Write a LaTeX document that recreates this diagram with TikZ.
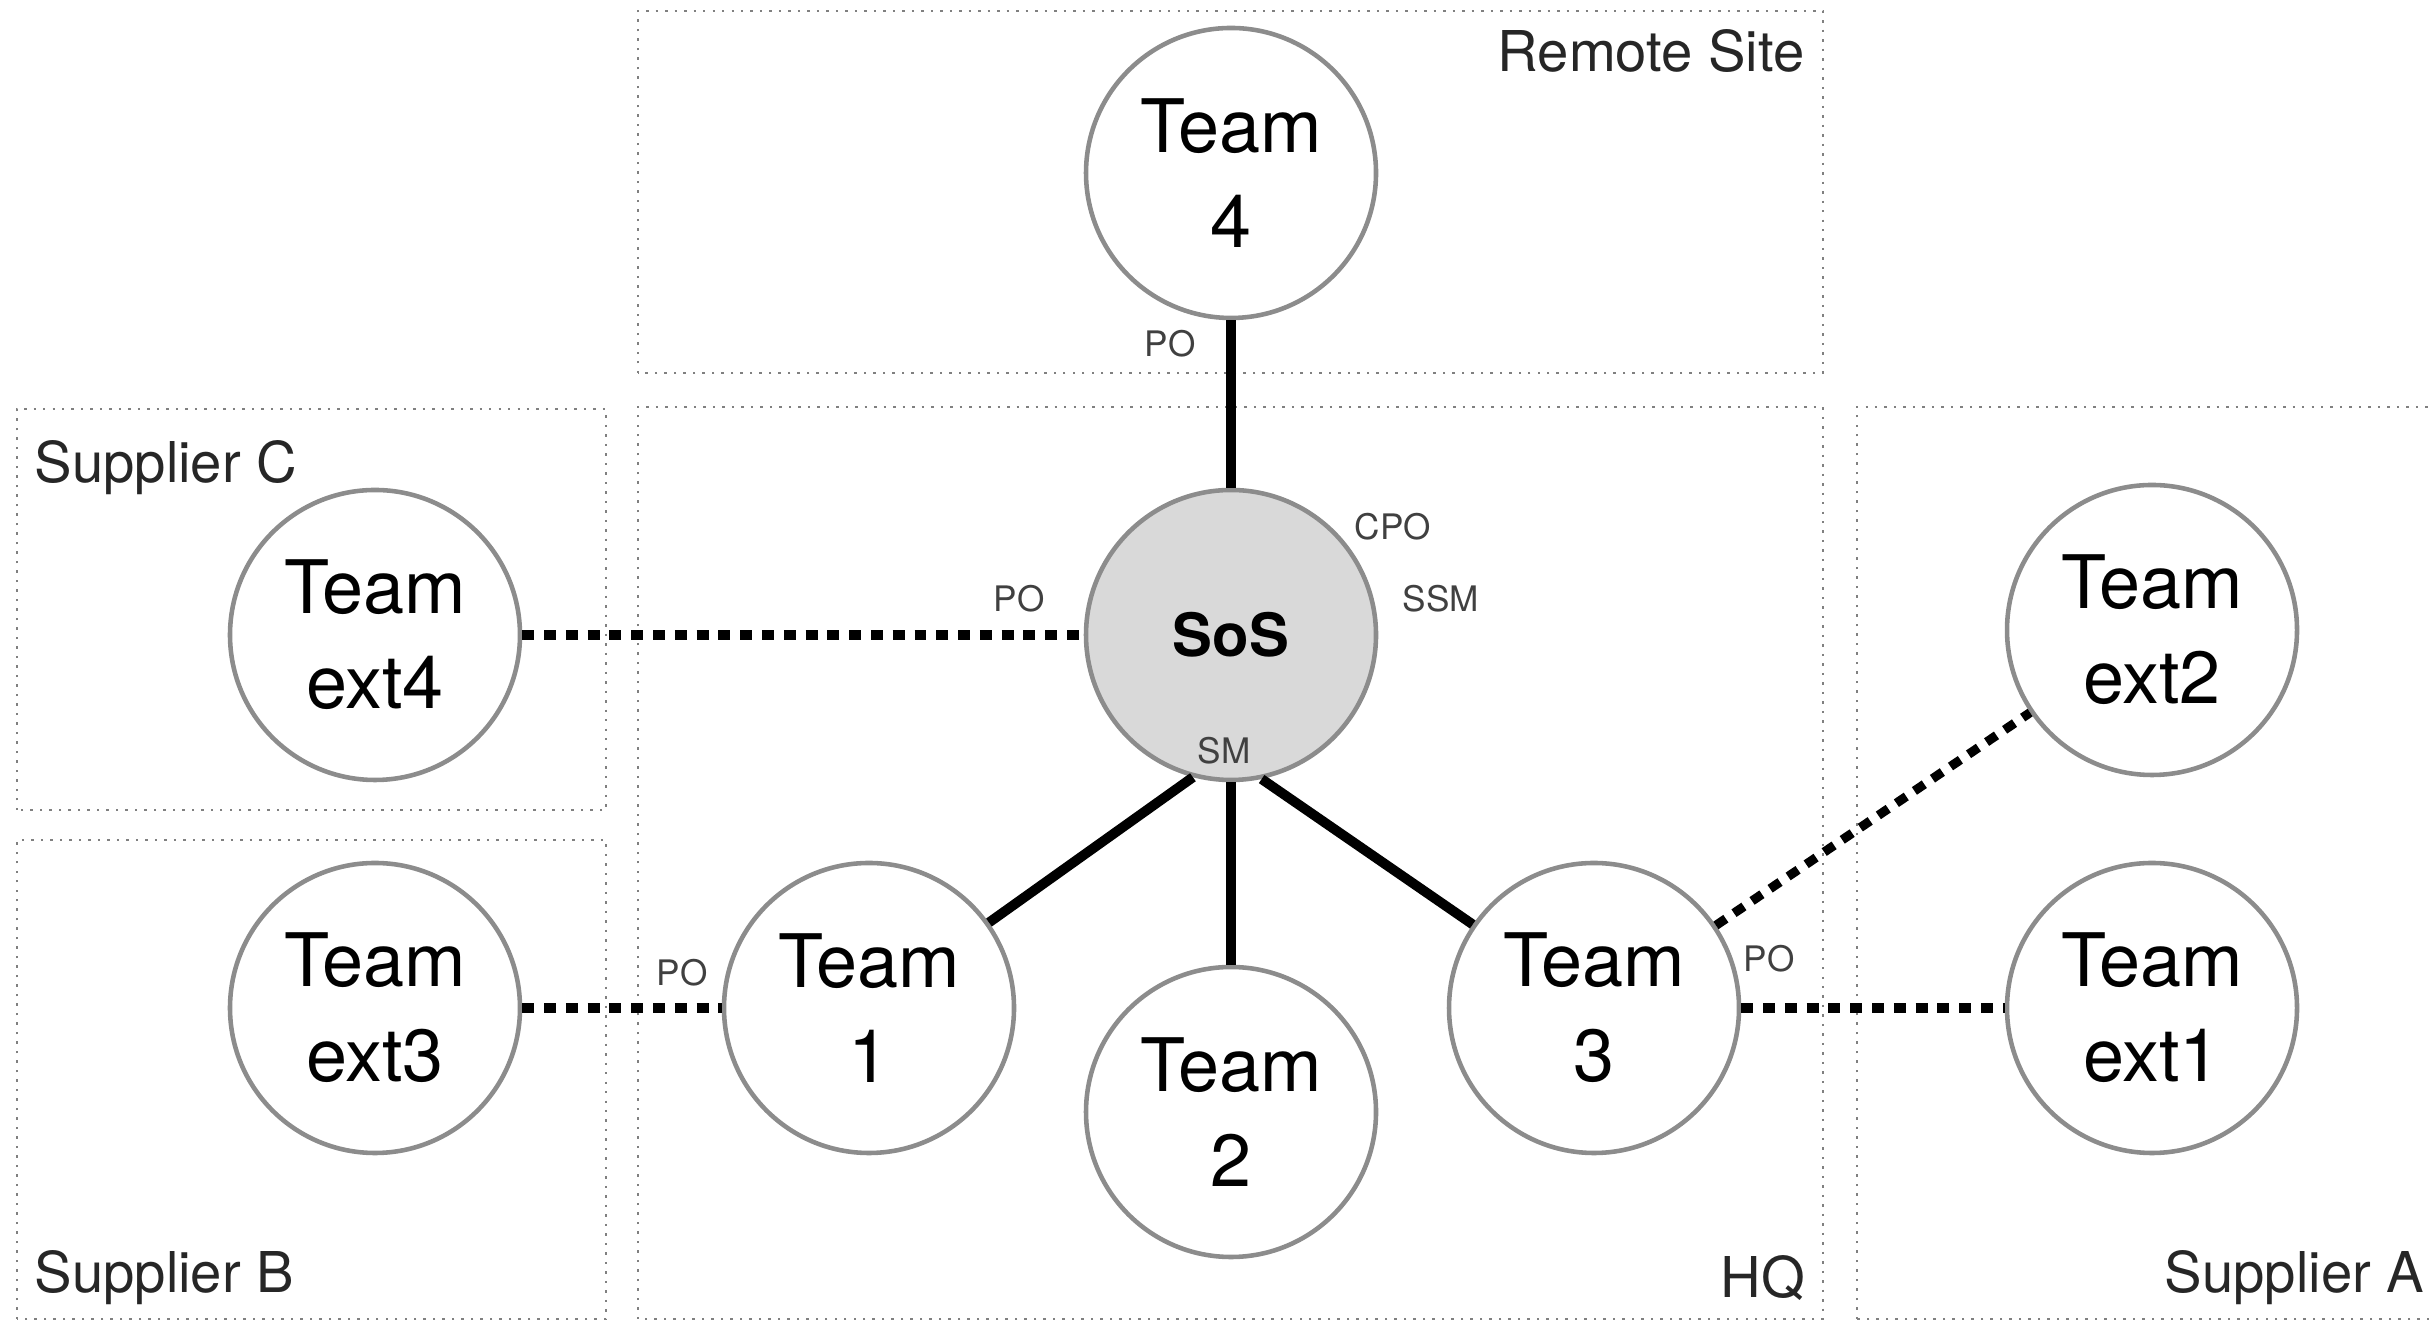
\documentclass[tikz,border=0pt]{standalone}
\usepackage{fontspec}
\setmainfont{TeX Gyre Heros}
\usepackage{tikz}
\usetikzlibrary{calc}
\tikzset{team/.style={circle,draw=black!45,line width=1.3pt,minimum size=2.9cm,inner sep=0pt,align=center,font=\fontsize{21}{27}\selectfont}}
\tikzset{hub/.style={team,fill=black!15,font=\fontsize{17}{20}\selectfont\bfseries}}
\tikzset{site/.style={draw=black!50,dotted,line width=0.7pt}}
\tikzset{sitename/.style={inner sep=0pt,font=\fontsize{16}{19}\selectfont,text=black!85}}
\tikzset{role/.style={font=\fontsize{10}{12}\selectfont,text=black!75}}
\tikzset{link/.style={line width=2.8pt,black}}
\tikzset{extlink/.style={line width=2.6pt,black,dash pattern=on 3.4pt off 2.8pt}}

\begin{document}
\begin{tikzpicture}
\useasboundingbox (0,0) rectangle (24.29,13.23);

% sites
\draw[site] (6.38,9.50) rectangle (18.23,13.12);
\draw[site] (6.38,0.04) rectangle (18.23,9.16);
\draw[site] (0.17,5.13) rectangle (6.06,9.14);
\draw[site] (0.17,0.04) rectangle (6.06,4.83);
\draw[site] (18.57,0.04) rectangle (24.60,9.16);

\node (remote) at (18.05,12.72)[sitename,anchor=east]{Remote Site};
\node (supc) at (0.34,8.55)[sitename,anchor=west]{Supplier C};
\node (supb) at (0.34,0.45)[sitename,anchor=west]{Supplier B};
\node (hq) at (18.06,0.45)[sitename,anchor=east]{HQ};
\node (supa) at (24.25,0.45)[sitename,anchor=east]{Supplier A};

% teams
\node (team4) at (12.31,11.50)[team]{Team\\4};
\node (sos) at (12.31,6.88)[hub]{SoS};
\node (ext4) at (3.75,6.88)[team]{Team\\ext4};
\node (ext3) at (3.75,3.15)[team]{Team\\ext3};
\node (team1) at (8.69,3.15)[team]{Team\\1};
\node (team2) at (12.31,2.11)[team]{Team\\2};
\node (team3) at (15.94,3.15)[team]{Team\\3};
\node (ext2) at (21.52,6.93)[team]{Team\\ext2};
\node (ext1) at (21.52,3.15)[team]{Team\\ext1};

% roles
\node (po4) at (11.70,9.79)[role]{PO};
\node (cpo) at (13.93,7.96)[role]{CPO};
\node (ssm) at (14.41,7.24)[role]{SSM};
\node (posos) at (10.19,7.24)[role]{PO};
\node (sm) at (12.24,5.72)[role]{SM};
\node (po1) at (6.82,3.50)[role]{PO};
\node (po3) at (17.69,3.64)[role]{PO};

\draw[link] (team4) -- (sos);
\draw[link] (sos.-105) -- (team1);
\draw[link] (sos.south) -- (team2);
\draw[link] (sos.-78) -- (team3);

\draw[extlink] (ext4) -- (sos);
\draw[extlink] (ext3) -- (team1);
\draw[extlink] (team3) -- (ext1);
\draw[extlink] (team3) -- (ext2);
\end{tikzpicture}
\end{document}
